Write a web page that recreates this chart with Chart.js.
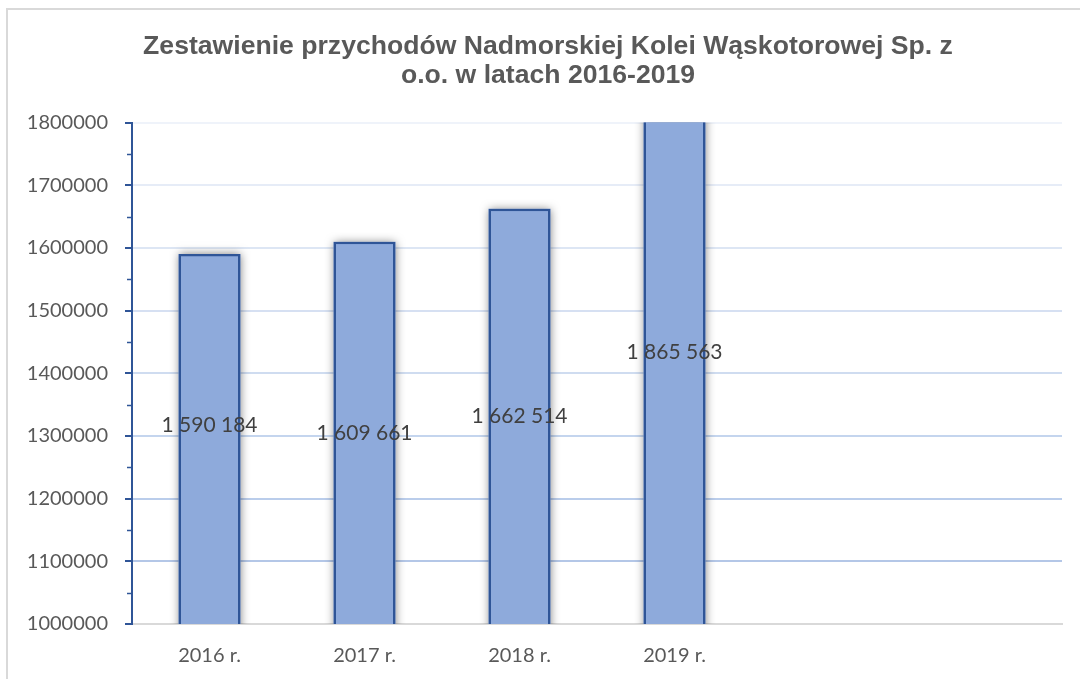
<!DOCTYPE html>
<html>
<head>
<meta charset="utf-8">
<script src="https://cdn.jsdelivr.net/npm/chart.js@4/dist/chart.umd.min.js"></script>
<style>
  html, body { margin: 0; padding: 0; background: #ffffff; overflow: hidden; width: 1080px; height: 679px; }
  #frame { position: absolute; left: 6px; top: 8px; width: 1084px; height: 690px; box-sizing: border-box; border: 2px solid #d9d9d9; background: #fff; }
  #wrap { position: absolute; left: 0; top: 0; width: 1080px; height: 672px; }
</style>
</head>
<body>
<div id="frame"><div id="wrap"><canvas id="c"></canvas></div></div>
<script>
const categories = ['2016 r.', '2017 r.', '2018 r.', '2019 r.', '', ''];
const revenues = [1590184, 1609661, 1662514, 1865563, null, null];
const dataLabels = ['1 590 184', '1 609 661', '1 662 514', '1 865 563'];
const yTicks = [1000000, 1100000, 1200000, 1300000, 1400000, 1500000, 1600000, 1700000, 1800000];
const titleLines = ['Zestawienie przychodów Nadmorskiej Kolei Wąskotorowej Sp. z', 'o.o. w latach 2016-2019'];

const gridColors = {
  1100000: '#b4c7e7', 1200000: '#bacdeb', 1300000: '#c4d5ee', 1400000: '#cfdcf0',
  1500000: '#d6e0f2', 1600000: '#dde6f4', 1700000: '#e6ecf7', 1800000: '#eff3fa'
};

const barExtras = {
  id: 'barExtras',
  beforeDatasetsDraw(chart) {
    const ctx = chart.ctx;
    const area = chart.chartArea;
    const meta = chart.getDatasetMeta(0);
    ctx.save();
    ctx.beginPath();
    ctx.rect(area.left, area.top, area.right - area.left, area.bottom - area.top);
    ctx.clip();
    ctx.shadowColor = 'rgba(0,0,0,0.5)';
    ctx.shadowBlur = 9;
    ctx.fillStyle = '#8eaadb';
    meta.data.forEach((bar) => {
      if (bar.skip || bar.y == null || isNaN(bar.y)) return;
      const w = bar.width;
      const top = Math.min(bar.y, bar.base);
      ctx.fillRect(bar.x - w / 2, top, w, Math.abs(bar.base - bar.y));
    });
    ctx.restore();
  },
  afterDatasetsDraw(chart, args, opts) {
    const ctx = chart.ctx;
    const y = chart.scales.y;
    const meta = chart.getDatasetMeta(0);
    const base = y.getPixelForValue(y.min);
    ctx.save();
    ctx.font = '21px Lato, "Open Sans", sans-serif';
    ctx.fillStyle = '#404040';
    ctx.textAlign = 'center';
    ctx.textBaseline = 'middle';
    meta.data.forEach((bar, i) => {
      if (dataLabels[i] === undefined) return;
      const top = y.getPixelForValue(revenues[i]);
      const off = (opts.offsets && opts.offsets[i]) || 0;
      ctx.fillText(dataLabels[i], bar.x, (top + base) / 2 + off);
    });
    ctx.restore();
  },
  afterDraw(chart) {
    const ctx = chart.ctx;
    const y = chart.scales.y;
    const left = chart.chartArea.left;
    ctx.save();
    ctx.strokeStyle = '#2f5597';
    ctx.lineWidth = 1.5;
    for (let i = 0; i < yTicks.length - 1; i++) {
      const v = (yTicks[i] + yTicks[i + 1]) / 2;
      const py = Math.round(y.getPixelForValue(v)) + 0.5;
      ctx.beginPath();
      ctx.moveTo(left - 5, py);
      ctx.lineTo(left, py);
      ctx.stroke();
    }
    ctx.restore();
  }
};

new Chart(document.getElementById('c'), {
  type: 'bar',
  data: {
    labels: categories,
    datasets: [{
      data: revenues,
      backgroundColor: '#8eaadb',
      borderColor: '#2f5597',
      borderWidth: 2.5,
      barPercentage: 0.4,
      categoryPercentage: 1.0,
      clip: 0
    }]
  },
  options: {
    responsive: true,
    maintainAspectRatio: false,
    animation: false,
    layout: { padding: 0 },
    plugins: {
      legend: { display: false },
      tooltip: { enabled: false },
      title: {
        display: true,
        text: titleLines,
        color: '#595959',
        font: { family: '"Liberation Sans", Arial, sans-serif', size: 26.6, weight: 'bold', lineHeight: 1.1 },
        padding: { top: 22, bottom: 32 }
      },
      barExtras: { offsets: [-14, 0, 0, 0] }
    },
    scales: {
      x: {
        grid: { display: false, drawTicks: false },
        border: { display: true, color: '#d9d9d9', width: 2 },
        ticks: {
          color: '#595959',
          font: { family: 'Lato, "Open Sans", sans-serif', size: 20 },
          padding: 20,
          maxRotation: 0,
          autoSkip: false
        },
        afterFit(scale) { scale.height = 58; }
      },
      y: {
        min: 1000000,
        max: 1800000,
        grid: {
          color: (ctx) => gridColors[ctx.tick && ctx.tick.value] || 'rgba(0,0,0,0)',
          lineWidth: 2,
          tickColor: '#2f5597',
          tickWidth: 2,
          tickLength: 7
        },
        border: { display: true, color: '#2f5597', width: 2 },
        afterBuildTicks(scale) { scale.ticks = yTicks.map(v => ({ value: v })); },
        ticks: {
          color: '#595959',
          font: { family: 'Lato, "Open Sans", sans-serif', size: 20 },
          padding: 17,
          callback: (v) => String(v)
        },
        afterFit(scale) { scale.width = 124; }
      },
      spacer: {
        type: 'linear',
        position: 'right',
        display: true,
        grid: { display: false, drawTicks: false },
        border: { display: false },
        ticks: { display: false },
        afterFit(scale) { scale.width = 26; }
      }
    }
  },
  plugins: [barExtras]
});
</script>
</body>
</html>
